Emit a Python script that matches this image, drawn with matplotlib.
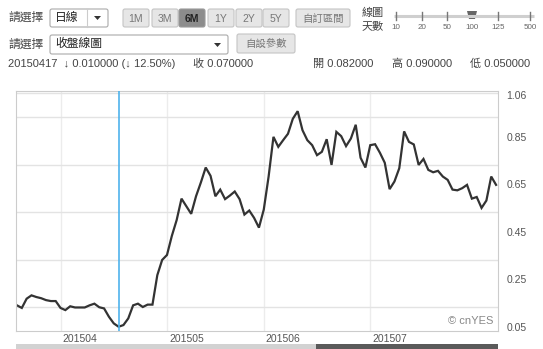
import matplotlib
matplotlib.use('Agg')
import matplotlib.pyplot as plt
from matplotlib.patches import Rectangle, FancyBboxPatch, Polygon
from matplotlib.transforms import ScaledTranslation

plt.rcParams['font.family'] = ['Liberation Sans', 'Noto Sans CJK TC', 'DejaVu Sans']

# 收盤價, 100 個交易日
close = [0.158, 0.147, 0.186, 0.200, 0.193, 0.188, 0.180, 0.176, 0.176, 0.147,
         0.138, 0.154, 0.149, 0.149, 0.149, 0.158, 0.165, 0.150, 0.145, 0.110,
         0.082, 0.068, 0.075, 0.103, 0.158, 0.165, 0.151, 0.161, 0.161, 0.285,
         0.349, 0.370, 0.450, 0.517, 0.607, 0.575, 0.543, 0.617, 0.675, 0.738,
         0.703, 0.617, 0.645, 0.605, 0.620, 0.637, 0.605, 0.540, 0.557, 0.526,
         0.485, 0.561, 0.700, 0.867, 0.825, 0.853, 0.880, 0.943, 0.975, 0.895,
         0.853, 0.832, 0.790, 0.804, 0.857, 0.749, 0.888, 0.870, 0.828, 0.860,
         0.918, 0.779, 0.738, 0.832, 0.836, 0.800, 0.758, 0.647, 0.679, 0.735,
         0.890, 0.846, 0.835, 0.749, 0.774, 0.728, 0.718, 0.724, 0.700, 0.686,
         0.645, 0.642, 0.651, 0.665, 0.607, 0.614, 0.568, 0.599, 0.700, 0.665]
month_idx = [9, 31, 51, 73]
month_labels = ['201504', '201505', '201506', '201507']
ytick_vals = [0.05, 0.25, 0.45, 0.65, 0.85, 1.06]
ygrid_vals = [0.05, 0.15, 0.25, 0.35, 0.45, 0.55, 0.65, 0.75, 0.85, 0.95, 1.05]
sel_idx = 21   # 20150417

range_buttons = ['1M', '3M', '6M', '1Y', '2Y', '5Y']
days_labels = ['10', '20', '50', '100', '125', '500']
info_text = '20150417  ↓ 0.010000 (↓ 12.50%)'
ohlc = [('收', '0.070000'), ('開', '0.082000'), ('高', '0.090000'), ('低', '0.050000')]

W, H = 543, 349
fig = plt.figure(figsize=(W / 100, H / 100), dpi=100)
fig.patch.set_facecolor('white')

# ---- 主圖 ----
ax = fig.add_axes([16 / W, 1 - 331 / H, (498 - 16) / W, (331 - 91) / H])
ax.plot(range(len(close)), close, color='#333333', lw=1.6, solid_joinstyle='miter')
ax.axvline(sel_idx, color='#4fb3ec', lw=1.2, zorder=3)
ax.set_xlim(-0.2, 99.4)
ax.set_ylim(0.05, 1.06)

ax.set_yticks(ytick_vals)
ax.set_yticklabels(['%.2f' % v for v in ytick_vals])
ax.set_yticks(ygrid_vals, minor=True)
ax.yaxis.tick_right()
ax.tick_params(axis='y', which='both', length=0, pad=6, labelsize=7.5, labelcolor='#555555')
ax.set_xticks(month_idx)
ax.set_xticklabels(month_labels)
ax.tick_params(axis='x', length=0, pad=2, labelsize=7.5, labelcolor='#555555')
for lab in ax.get_xticklabels():
    lab.set_ha('left')
    lab.set_transform(lab.get_transform() + ScaledTranslation(2 / 100, 0, fig.dpi_scale_trans))
for lab in ax.get_yticklabels():
    dy = -4 if lab.get_text() == '1.06' else 4
    lab.set_transform(lab.get_transform() + ScaledTranslation(0, dy / 100, fig.dpi_scale_trans))

ax.grid(axis='y', which='minor', color='#e3e3e3', lw=1)
ax.grid(axis='y', which='major', visible=False)
ax.grid(axis='x', color='#ececec', lw=1)
ax.set_axisbelow(True)
for s in ax.spines.values():
    s.set_color('#cccccc')
ax.text(0.99, 0.02, '© cnYES', transform=ax.transAxes, ha='right', va='bottom',
        fontsize=8, color='#888888')

# ---- 上方工具列 (像素座標) ----
hd = fig.add_axes([0, 0, 1, 1])
hd.set_xlim(0, W)
hd.set_ylim(H, 0)
hd.axis('off')

txt = '#444444'

def box(x0, x1, y0, y1, fc, ec='#b5b5b5'):
    hd.add_patch(FancyBboxPatch((x0, y0), x1 - x0, y1 - y0,
                                boxstyle='round,pad=0,rounding_size=2',
                                fc=fc, ec=ec, lw=0.8))

hd.text(8, 18, '請選擇', fontsize=8.5, color=txt, va='center')
box(50, 108, 9, 27, 'white', '#aaaaaa')
hd.plot([87, 87], [9, 27], color='#cccccc', lw=0.8)
hd.text(55, 18, '日線', fontsize=8.5, color='#222222', va='center')
hd.add_patch(Polygon([[94, 16], [101, 16], [97.5, 20]], closed=True, fc='#333333'))

bx = [123, 152, 179, 208, 236, 263]
for x0, lab in zip(bx, range_buttons):
    sel = lab == '6M'
    box(x0, x0 + 26, 9, 27, '#8c8c8c' if sel else '#e6e6e6', '#9a9a9a' if sel else '#c4c4c4')
    hd.text(x0 + 13, 18.5, lab, fontsize=7.5, ha='center', va='center',
            color='#222222' if sel else '#777777', fontweight='bold' if sel else 'normal')
box(296, 350, 9, 27, '#e6e6e6', '#c4c4c4')
hd.text(323, 18.5, '自訂區間', fontsize=7.5, ha='center', va='center', color='#777777')

hd.text(362, 13, '線圖', fontsize=8, color=txt, va='center')
hd.text(362, 26, '天數', fontsize=8, color=txt, va='center')
sx = [396, 422, 447, 472, 498, 530]
hd.plot([394, 534], [16, 16], color='#cfcfcf', lw=2.2, solid_capstyle='butt')
for x, lab in zip(sx, days_labels):
    if lab == '100':
        hd.add_patch(Polygon([[467, 11], [477, 11], [475, 19], [469, 19]], closed=True, fc='#666666'))
    else:
        hd.plot([x, x], [12, 20], color='#777777', lw=1)
    hd.text(x, 27.5, lab, fontsize=5.8, ha='center', va='center', color='#666666')

hd.text(8, 45, '請選擇', fontsize=8.5, color=txt, va='center')
box(50, 228, 35, 54, 'white', '#aaaaaa')
hd.text(55, 44.5, '收盤線圖', fontsize=8.5, color='#222222', va='center')
hd.add_patch(Polygon([[214, 43], [221, 43], [217.5, 47]], closed=True, fc='#333333'))
box(237, 295, 34, 53, '#e6e6e6', '#c4c4c4')
hd.text(266, 43.5, '自設參數', fontsize=7.5, ha='center', va='center', color='#777777')

hd.text(8, 64, info_text, fontsize=8, color=txt, va='center')
for x, (k, v) in zip([193, 313, 392, 470], ohlc):
    hd.text(x, 64, k + ' ' + v, fontsize=8, color=txt, va='center')

# ---- 下方捲軸 ----
hd.add_patch(Rectangle((16, 344), 300, 6, fc='#d2d2d2', ec='none'))
hd.add_patch(Rectangle((316, 344), 182, 6, fc='#5a5a5a', ec='none'))

fig.savefig('out.png', dpi=100, facecolor='white')
